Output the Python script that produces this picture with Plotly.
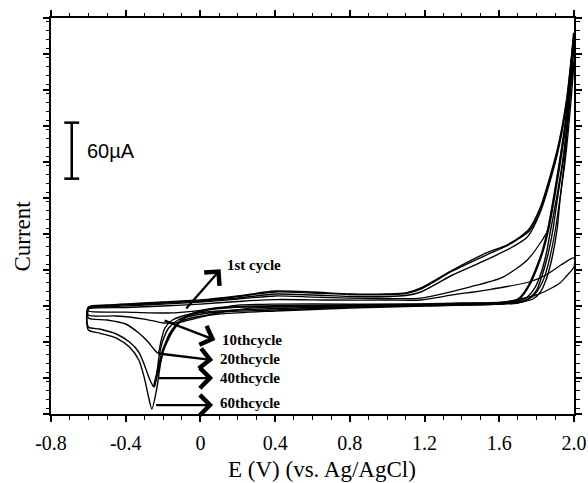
import plotly.graph_objects as go

# ---------------- data (E in V vs Ag/AgCl, current in µA) ----------------
# 60th cycle
c60_fwd_E = [-0.60, -0.50, -0.35, -0.20, 0.00, 0.20, 0.40, 0.60, 0.80, 1.00, 1.10, 1.18, 1.35, 1.53, 1.64, 1.71, 1.76, 1.82, 1.91, 1.96, 2.00]
c60_fwd_I = [-7.5, -5.4, -3.75, -2.1, 0.0, 4.3, 9.6, 8.6, 6.4, 6.4, 7.5, 12.9, 32.1, 50.4, 58.9, 67.5, 76.1, 99.6, 160.7, 214.3, 286.1]
c60_rev_E = [1.975, 1.95, 1.91, 1.887, 1.86, 1.83, 1.80, 1.76, 1.70, 1.60, 1.20, 0.80, 0.40, 0.10, -0.05, -0.12, -0.17, -0.21, -0.235, -0.26, -0.28, -0.30, -0.33, -0.38, -0.45, -0.54, -0.60]
c60_rev_I = [214.3, 160.7, 107.1, 75.0, 48.2, 26.8, 10.7, 2.1, -2.1, -4.3, -6.4, -8.6, -11.8, -15.0, -19.3, -24.6, -37.5, -64.3, -96.4, -116.8, -101.8, -83.6, -64.3, -50.4, -40.7, -35.4, -32.1]

# 40th cycle
c40_fwd_E = [-0.60, -0.50, -0.35, -0.20, 0.00, 0.20, 0.40, 0.60, 0.80, 1.00, 1.10, 1.18, 1.35, 1.53, 1.64, 1.71, 1.76, 1.82, 1.91, 1.96, 2.00]
c40_fwd_I = [-8.0, -5.9, -4.3, -2.7, -0.5, 3.75, 8.6, 7.5, 5.9, 5.9, 7.0, 11.8, 31.1, 48.2, 57.9, 66.4, 73.9, 96.4, 158.6, 212.1, 282.9]
c40_rev_E = [1.978, 1.955, 1.925, 1.909, 1.88, 1.85, 1.82, 1.78, 1.72, 1.60, 1.20, 0.80, 0.40, 0.10, -0.05, -0.12, -0.17, -0.20, -0.22, -0.235, -0.249, -0.27, -0.30, -0.33, -0.38, -0.45, -0.54, -0.60]
c40_rev_I = [214.3, 160.7, 107.1, 75.0, 42.9, 21.4, 8.6, 1.1, -2.1, -4.3, -5.9, -7.5, -10.7, -12.9, -17.1, -21.4, -30.0, -42.9, -58.9, -80.4, -93.2, -85.7, -69.6, -55.7, -45.0, -36.4, -31.1, -28.9]

# 20th cycle
c20_fwd_E = [-0.60, -0.50, -0.35, -0.20, 0.00, 0.20, 0.40, 0.60, 0.80, 1.00, 1.10, 1.18, 1.35, 1.53, 1.67, 1.75, 1.82, 1.91, 1.96, 2.00]
c20_fwd_I = [-8.6, -6.4, -4.8, -3.2, -1.1, 2.1, 6.4, 5.4, 3.75, 3.75, 4.8, 8.6, 26.8, 42.9, 56.8, 67.5, 94.3, 155.4, 208.9, 278.6]
c20_rev_E = [1.97, 1.94, 1.90, 1.875, 1.85, 1.82, 1.79, 1.75, 1.70, 1.65, 1.20, 0.80, 0.40, 0.10, -0.05, -0.15, -0.19, -0.21, -0.227, -0.245, -0.28, -0.33, -0.40, -0.50, -0.60]
c20_rev_I = [203.6, 150.0, 101.8, 75.0, 48.2, 26.8, 12.9, 3.2, -1.1, -3.2, -5.4, -7.0, -9.1, -11.8, -15.0, -21.4, -30.0, -42.9, -56.8, -53.6, -45.0, -35.4, -25.7, -21.4, -19.3]

# 10th cycle
c10_fwd_E = [-0.60, -0.50, -0.35, -0.20, 0.00, 0.20, 0.40, 0.60, 0.80, 1.00, 1.18, 1.44, 1.62, 1.75, 1.83, 1.86, 1.90, 1.95, 2.00]
c10_fwd_I = [-9.1, -7.5, -5.9, -4.3, -2.1, 1.1, 4.3, 3.2, 2.1, 1.6, 2.1, 13.9, 24.6, 42.9, 64.3, 75.0, 117.9, 182.1, 257.1]
c10_rev_E = [1.975, 1.95, 1.92, 1.90, 1.87, 1.84, 1.80, 1.76, 1.70, 1.20, 0.80, 0.40, 0.27, 0.09, -0.09, -0.15, -0.20, -0.30, -0.45, -0.60]
c10_rev_I = [192.9, 144.6, 101.8, 75.0, 45.0, 23.6, 8.6, 1.1, -3.2, -5.4, -6.4, -7.5, -8.6, -13.9, -23.0, -24.6, -24.6, -20.4, -17.1, -16.1]

# 1st cycle
c1_fwd_E = [-0.60, -0.40, -0.20, 0.00, 0.20, 0.40, 0.70, 1.00, 1.18, 1.35, 1.53, 1.76, 1.85, 1.93, 2.00]
c1_fwd_I = [-9.6, -8.0, -6.4, -4.3, -1.6, 0.5, 0.0, 0.0, 0.0, 5.4, 10.7, 19.3, 26.8, 37.5, 45.0]
c1_rev_E = [2.00, 1.96, 1.925, 1.86, 1.80, 1.62, 1.40, 1.20, 0.80, 0.40, 0.20, 0.10, -0.09, -0.18, -0.40, -0.60]
c1_rev_I = [35.4, 25.7, 18.2, 10.7, 5.4, -2.1, -3.75, -4.3, -4.3, -4.3, -5.4, -8.6, -12.9, -13.9, -12.9, -11.8]

# dark sweep rising from the cathodic peak region
dark_E = [-0.249, -0.22, -0.20, -0.147, -0.08, 0.03, 0.17, 0.45, 1.00, 1.40, 1.67, 1.71, 1.76, 1.80, 1.834, 1.861, 1.90, 1.95, 1.98, 2.00]
dark_I = [-93.2, -69.6, -53.6, -32.1, -18.2, -10.7, -7.5, -6.4, -5.4, -3.75, -2.1, 2.1, 16.1, 34.3, 53.6, 75.0, 117.9, 182.1, 235.7, 286.1]

# axis ticks
x_tick_vals = [-0.8, -0.4, 0.0, 0.4, 0.8, 1.2, 1.6, 2.0]
x_tick_text = ["-0.8", "-0.4", "0", "0.4", "0.8", "1.2", "1.6", "2.0"]

# cycle labels and arrows
cycle_labels = ["1st cycle", "10thcycle", "20thcycle", "40thcycle", "60thcycle"]
label_E = [0.131, 0.105, 0.096, 0.096, 0.096]
label_I = [37.5, -42.9, -63.6, -83.9, -110.7]
arrow_tail_E = [-0.083, -0.200, -0.234, -0.234, -0.245]
arrow_tail_I = [-10.7, -21.4, -57.1, -83.6, -112.5]
arrow_head_E = [0.108, 0.080, 0.068, 0.068, 0.068]
arrow_head_I = [33.0, -42.9, -64.3, -83.6, -112.5]

# scale bar (60 µA)
scale_E = -0.689
scale_cap_half = 0.04
scale_low = 130.0
scale_high = 190.0
scale_text = "60µA"

# ---------------- figure ----------------
fig = go.Figure()

loops = [
    (c1_fwd_E, c1_fwd_I, c1_rev_E, c1_rev_I, 1.3),
    (c10_fwd_E, c10_fwd_I, c10_rev_E, c10_rev_I, 1.3),
    (c20_fwd_E, c20_fwd_I, c20_rev_E, c20_rev_I, 1.4),
    (c40_fwd_E, c40_fwd_I, c40_rev_E, c40_rev_I, 1.4),
    (c60_fwd_E, c60_fwd_I, c60_rev_E, c60_rev_I, 1.4),
]
for fE, fI, rE, rI, w in loops:
    fig.add_trace(go.Scatter(
        x=fE + rE + [fE[0]], y=fI + rI + [fI[0]], mode="lines",
        line=dict(color="black", width=w, shape="spline", smoothing=0.7),
        hoverinfo="skip", showlegend=False))

fig.add_trace(go.Scatter(
    x=dark_E, y=dark_I, mode="lines",
    line=dict(color="black", width=2.4, shape="spline", smoothing=0.7),
    hoverinfo="skip", showlegend=False))

# scale bar
fig.add_shape(type="line", x0=scale_E, x1=scale_E, y0=scale_low, y1=scale_high,
              xref="x", yref="y", line=dict(color="black", width=2.5))
for yy in (scale_low, scale_high):
    fig.add_shape(type="line", x0=scale_E - scale_cap_half, x1=scale_E + scale_cap_half,
                  y0=yy, y1=yy, xref="x", yref="y", line=dict(color="black", width=2.5))
fig.add_annotation(x=scale_E + 0.07, y=(scale_low + scale_high) / 2, xref="x", yref="y",
                   text=scale_text, showarrow=False, xanchor="left", yanchor="middle",
                   font=dict(family="Liberation Sans", size=20, color="black"))

# arrows and labels
for i, t in enumerate(cycle_labels):
    fig.add_annotation(x=arrow_head_E[i], y=arrow_head_I[i], ax=arrow_tail_E[i], ay=arrow_tail_I[i],
                       xref="x", yref="y", axref="x", ayref="y", text="", showarrow=True,
                       arrowhead=4, arrowsize=1.7, arrowwidth=2.3, arrowcolor="black", standoff=0)
    fig.add_annotation(x=label_E[i], y=label_I[i], xref="x", yref="y", text="<b>" + t + "</b>",
                       showarrow=False, xanchor="left", yanchor="middle",
                       font=dict(family="Liberation Serif", size=15, color="black"))

# axis titles
fig.add_annotation(x=0.518, y=-0.141, xref="paper", yref="paper", text="E (V) (vs. Ag/AgCl)",
                   showarrow=False, xanchor="center", yanchor="middle",
                   font=dict(family="Liberation Serif", size=23, color="#000000"))
fig.add_annotation(x=-0.054, y=0.45, xref="paper", yref="paper", text="Current", textangle=-90,
                   showarrow=False, xanchor="center", yanchor="middle",
                   font=dict(family="Liberation Serif", size=23, color="#000000"))

fig.update_xaxes(range=[-0.8, 2.0], tickvals=x_tick_vals, ticktext=x_tick_text,
                 automargin=False,
                 showline=True, linecolor="black", linewidth=2, mirror="ticks",
                 ticks="outside", ticklen=6, tickwidth=1.5, tickcolor="black",
                 ticklabelstandoff=4,
                 minor=dict(dtick=0.1, ticks="outside", ticklen=3.5, tickwidth=1.2, tickcolor="black"),
                 showgrid=False, zeroline=False,
                 tickfont=dict(family="Liberation Serif", size=20, color="black"))
fig.update_yaxes(range=[-122.1, 302.1], tick0=-122.1, dtick=38.56,
                 automargin=False,
                 showticklabels=False,
                 showline=True, linecolor="black", linewidth=2, mirror="ticks",
                 ticks="outside", ticklen=6, tickwidth=1.5, tickcolor="black",
                 minor=dict(dtick=9.64, ticks="outside", ticklen=3.5, tickwidth=1.2, tickcolor="black"),
                 showgrid=False, zeroline=False)

fig.update_layout(width=588, height=483, margin=dict(l=51, r=14, t=18, b=69, autoexpand=False),
                  paper_bgcolor="white", plot_bgcolor="white")

fig.write_html("out.html",
               config={"displayModeBar": False},
               post_script="document.body.style.margin='0';document.body.style.padding='0';"
                           "document.body.style.overflow='hidden';"
                           "document.documentElement.style.overflow='hidden';")
